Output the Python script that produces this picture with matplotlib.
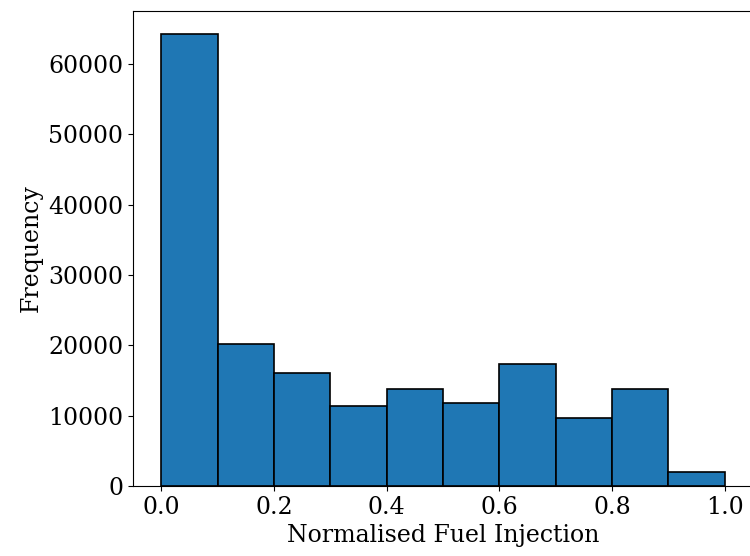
import matplotlib
matplotlib.use("Agg")
import matplotlib.pyplot as plt
import numpy as np

plt.rcParams['font.family'] = ['DejaVu Serif']

bin_edges = [0.0, 0.1, 0.2, 0.3, 0.4, 0.5, 0.6, 0.7, 0.8, 0.9, 1.0]
counts = [64330, 20250, 16070, 11330, 13790, 11800, 17300, 9730, 13750, 1950]

fig = plt.figure(figsize=(7.5, 5.56), dpi=100)
ax = fig.add_axes([133 / 750, 1 - 486 / 556, 620 / 750, 475 / 556])

centers = np.array(bin_edges[:-1]) + 0.05
ax.hist(centers, bins=bin_edges, weights=counts, color='#1f77b4',
        edgecolor='black', linewidth=1.2)

ax.set_xlabel('Normalised Fuel Injection', fontsize=17)
ax.set_ylabel('Frequency', fontsize=17)
ax.tick_params(labelsize=17)

fig.savefig('out.png', dpi=100)
